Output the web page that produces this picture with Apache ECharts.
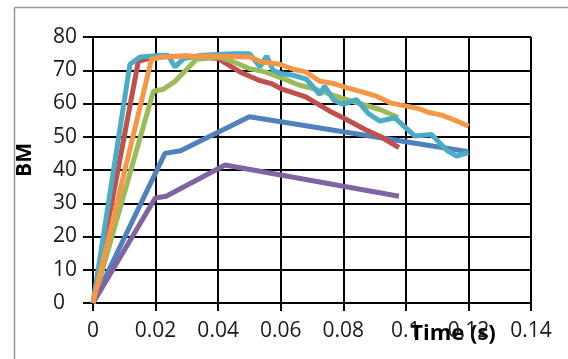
<!DOCTYPE html>
<html>
<head>
<meta charset="utf-8">
<script src="https://cdn.jsdelivr.net/npm/echarts@6/dist/echarts.min.js"></script>
<style>
  html, body { margin: 0; padding: 0; background: #fff; }
  #chart { width: 568px; height: 359px; }
</style>
</head>
<body>
<div id="chart"></div>
<script>
// Data: [time (s), BM]
const blueSeries = [[0, 0], [0.023, 45], [0.028, 45.8], [0.05, 56], [0.12, 45.5]];
const redSeries = [
  [0, 0], [0.0145, 72.8], [0.02, 74], [0.03, 74.3], [0.04, 73.5], [0.047, 69.5],
  [0.053, 67], [0.057, 66], [0.06, 64.5], [0.068, 62], [0.0757, 57.7], [0.081, 55.2],
  [0.087, 52.2], [0.092, 50], [0.0978, 46.7]
];
const greenSeries = [
  [0, 0], [0.0193, 63.7], [0.0225, 64.3], [0.026, 66.5], [0.0331, 73.3], [0.04, 74],
  [0.045, 72.5], [0.05, 70.5], [0.055, 69.5], [0.06, 67.8], [0.066, 65.5], [0.0704, 64.5],
  [0.081, 61.2], [0.0917, 58.2], [0.0975, 55.8]
];
const purpleSeries = [[0, 0], [0.0199, 31.6], [0.0234, 32.1], [0.0422, 41.5], [0.0978, 32.1]];
const cyanSeries = [
  [0, 0], [0.0118, 71.8], [0.015, 74], [0.022, 74.5], [0.024, 74.5], [0.0262, 71],
  [0.029, 73.5], [0.035, 74.5], [0.045, 75], [0.05, 75], [0.0534, 71], [0.0555, 74.3],
  [0.0576, 70], [0.06, 69], [0.064, 68.5], [0.0682, 67.3], [0.0725, 62.7], [0.074, 65.2],
  [0.077, 61], [0.08, 59.7], [0.0842, 61.2], [0.088, 57], [0.0917, 54.7], [0.0965, 55.7],
  [0.1029, 50.2], [0.1082, 50.7], [0.113, 46], [0.1162, 44.2], [0.12, 45.2]
];
const orangeSeries = [
  [0, 0], [0.0187, 73.3], [0.022, 74], [0.03, 74.2], [0.04, 74.2], [0.05, 74],
  [0.054, 72.5], [0.0597, 71.8], [0.064, 70.3], [0.068, 69.5], [0.0725, 66.7], [0.077, 66],
  [0.081, 64.8], [0.086, 63.5], [0.0906, 62.2], [0.095, 60.2], [0.1002, 59.2], [0.104, 58.5],
  [0.1077, 57.2], [0.1115, 56.5], [0.1151, 55.2], [0.1201, 53.2]
];

const seriesData = [blueSeries, redSeries, greenSeries, purpleSeries, cyanSeries, orangeSeries];
const seriesColors = ['#4F81BD', '#C0504D', '#9BBB59', '#8064A2', '#4BACC6', '#F79646'];

const FONT = '"Open Sans", sans-serif';
const chart = echarts.init(document.getElementById('chart'));

const option = {
  animation: false,
  grid: { left: 93, right: 37, top: 37, bottom: 56, containLabel: false },
  xAxis: {
    type: 'value',
    min: 0,
    max: 0.14,
    interval: 0.02,
    axisLine: { lineStyle: { color: '#000', width: 2 } },
    axisTick: { show: true, length: 8, lineStyle: { color: '#000', width: 2 } },
    splitLine: { show: true, lineStyle: { color: '#000', width: 2 } },
    axisLabel: {
      color: '#1a1a1a', fontSize: 21, fontFamily: FONT, margin: 18,
      formatter: (v) => String(+v.toFixed(2))
    }
  },
  yAxis: {
    type: 'value',
    min: 0,
    max: 80,
    interval: 10,
    axisLine: { show: true, lineStyle: { color: '#000', width: 2 } },
    axisTick: { show: true, length: 10, lineStyle: { color: '#000', width: 2 } },
    splitLine: { show: true, lineStyle: { color: '#000', width: 2 } },
    // Excel draws these labels left aligned
    axisLabel: { color: '#1a1a1a', fontSize: 21, fontFamily: FONT, margin: 40, align: 'left', padding: [5, 0, 0, 0] }
  },
  graphic: [
    { type: 'line', shape: { x1: 14.5, y1: 7.5, x2: 568, y2: 7.5 }, style: { stroke: '#999', lineWidth: 1.5 } },
    { type: 'line', shape: { x1: 14.5, y1: 7.5, x2: 14.5, y2: 359 }, style: { stroke: '#999', lineWidth: 1.5 } },
    {
      type: 'text', x: 25, y: 160, rotation: Math.PI / 2,
      style: { text: 'BM', font: 'bold 21px ' + FONT, fill: '#000', align: 'center', verticalAlign: 'middle' }
    },
    {
      type: 'text', x: 453, y: 334,
      style: { text: 'Time (s)', font: 'bold 22px ' + FONT, fill: '#000', align: 'center', verticalAlign: 'middle' }
    }
  ],
  series: seriesData.map((data, i) => ({
    type: 'line',
    data,
    showSymbol: false,
    color: seriesColors[i],
    lineStyle: { width: 5, color: seriesColors[i] }
  }))
};

chart.setOption(option);
</script>
</body>
</html>
